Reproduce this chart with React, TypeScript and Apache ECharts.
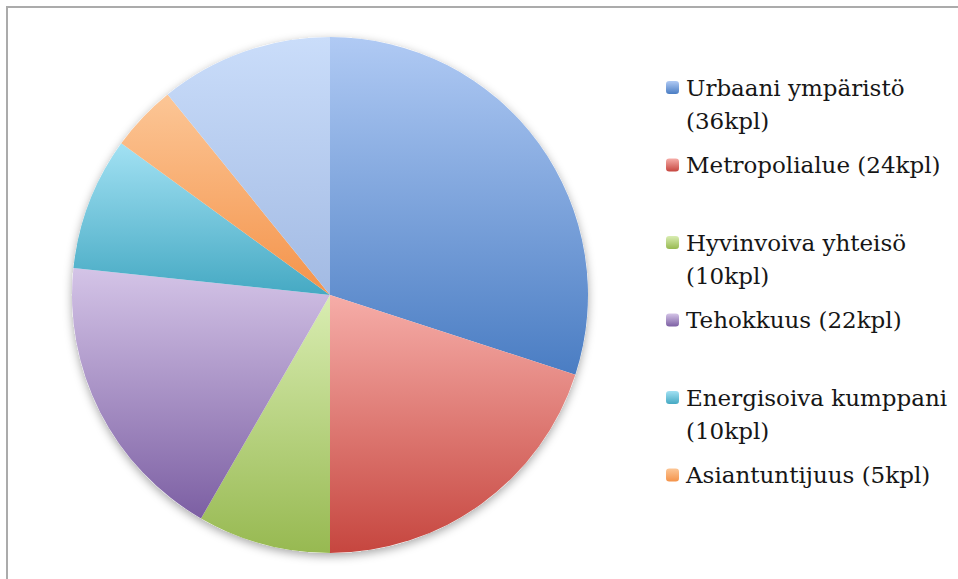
import React, { useEffect, useRef } from "react";
import * as echarts from "echarts";

// Project counts per theme (kpl = pieces)
const categories = [
  "Urbaani ympäristö",
  "Metropolialue",
  "Hyvinvoiva yhteisö",
  "Tehokkuus",
  "Energisoiva kumppani",
  "Asiantuntijuus",
  "Muut",
];
const counts = [36, 24, 10, 22, 10, 5, 13];
const legendNames = categories.slice(0, 6);

// Slice gradients: light tint at the top, full colour at the bottom
const lightColors = ["#B0CAF4", "#F6ADA8", "#D9EDB2", "#D4C4E7", "#A2E1F3", "#FCC696", "#CADDFA"];
const darkColors = ["#4A7DC3", "#C6463F", "#97B951", "#7C5FA3", "#45A9C3", "#F4934A", "#A2BAE3"];

const LINE_H = 33;

export default function App() {
  const ref = useRef<HTMLDivElement>(null);

  useEffect(() => {
    if (!ref.current) return;
    const chart = echarts.init(ref.current, null, { renderer: "svg" });

    const valueOf = (name: string) => counts[categories.indexOf(name)];
    const total = counts.reduce((a, b) => a + b, 0);
    const isLong = (name: string) => `${name} (${valueOf(name)}kpl)`.length > 22;
    // Long labels wrap; a blank leading line keeps the marker level with the first line
    const labelOf = (name: string) =>
      isLong(name) ? `\n${name}\n(${valueOf(name)}kpl)` : `${name} (${valueOf(name)}kpl)`;

    // One legend per entry so that every entry gets an equal slot
    const legends = legendNames.map((name, i) => {
      const boxH = isLong(name) ? LINE_H * 3 : LINE_H;
      const markerCenter = 87.5 + i * 77.5;
      return {
        orient: "vertical",
        left: 666,
        top: markerCenter - boxH / 2,
        padding: 0,
        itemWidth: 13,
        itemHeight: 13,
        selectedMode: false,
        data: [name],
        formatter: labelOf,
        textStyle: {
          fontFamily: "DejaVu Serif",
          fontSize: 23,
          lineHeight: LINE_H,
          color: "#161616",
          padding: [0, 0, 0, 2],
        },
      };
    });

    chart.setOption({
      animation: false,
      backgroundColor: "#ffffff",
      legend: legends,
      graphic: [
        {
          type: "line",
          shape: { x1: 6, y1: 7, x2: 958, y2: 7 },
          style: { stroke: "#ababab", lineWidth: 2 },
        },
        {
          type: "line",
          shape: { x1: 7, y1: 6, x2: 7, y2: 579 },
          style: { stroke: "#ababab", lineWidth: 2 },
        },
      ],
      series: [
        {
          // soft drop shadow under the whole pie
          type: "pie",
          silent: true,
          z: 1,
          center: [330, 295],
          radius: 258,
          label: { show: false },
          labelLine: { show: false },
          data: [{ value: total, name: "" }],
          itemStyle: {
            color: "#ffffff",
            shadowBlur: 10,
            shadowOffsetY: 3,
            shadowColor: "rgba(0,0,0,0.35)",
          },
        },
        {
          type: "pie",
          z: 2,
          center: [330, 295],
          radius: 258,
          startAngle: 90,
          clockwise: true,
          label: { show: false },
          labelLine: { show: false },
          emphasis: { disabled: true },
          data: categories.map((name, i) => ({
            name,
            value: counts[i],
            itemStyle: {
              color: new echarts.graphic.LinearGradient(0, 0, 0, 1, [
                { offset: 0, color: lightColors[i] },
                { offset: 1, color: darkColors[i] },
              ]),
              borderWidth: 0,
            },
          })),
        },
      ],
    });

    return () => chart.dispose();
  }, []);

  return (
    <div
      ref={ref}
      style={{ position: "fixed", left: 0, top: 0, width: 958, height: 579 }}
    />
  );
}
